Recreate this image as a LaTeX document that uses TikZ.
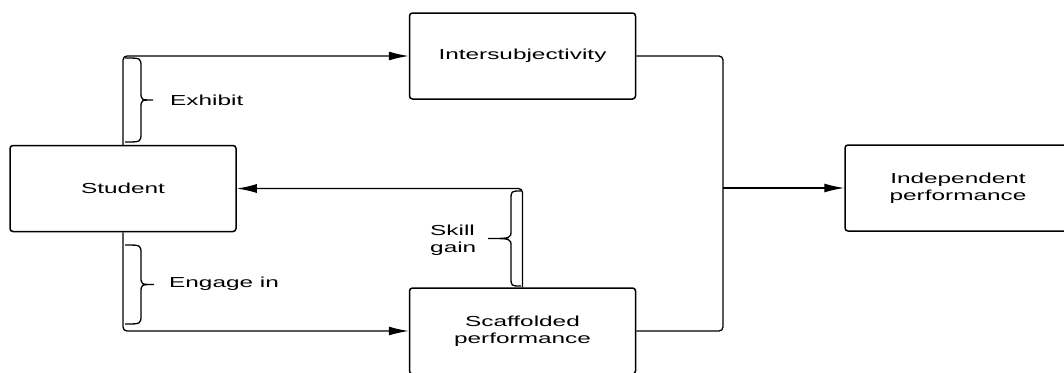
\documentclass[tikz,border=0pt]{standalone}
\usepackage{fontspec}
\setmainfont[FakeStretch=1.68]{Liberation Sans}
\usetikzlibrary{arrows.meta}
\tikzset{box/.style={draw,line width=1.5pt,rounded corners=3pt,
    minimum width=226pt,minimum height=86pt,inner sep=0pt,align=center,
    font=\fontsize{14.5}{16.5}\selectfont}}
\tikzset{lbl/.style={anchor=west,inner sep=0pt,font=\fontsize{14.5}{16.5}\selectfont}}
\tikzset{link/.style={line width=1.3pt,rounded corners=4pt}}
\tikzset{arr/.style={link,-{Latex[length=20pt,width=9pt]}}}
\tikzset{curly/.style={line width=1.3pt}}
% base x, top y, bottom y, back x, tip x
\newcommand{\curlybrace}[5]{%
  \draw[curly] (#1,#2) .. controls (#4,#2) .. (#4,#2+9)
    -- (#4,{(#2+#3)/2-8}) .. controls (#4,{(#2+#3)/2}) .. (#5,{(#2+#3)/2})
    .. controls (#4,{(#2+#3)/2}) .. (#4,{(#2+#3)/2+8})
    -- (#4,#3-9) .. controls (#4,#3) .. (#1,#3);}

\begin{document}
\begin{tikzpicture}[x=1pt,y=-1pt]
    \useasboundingbox (0,0) rectangle (1064,372);

    % Boxes
    \node[box] (stu) at (123,188.5) {Student};
    \node[box] (isub) at (522.5,56) {Intersubjectivity};
    \node[box] (scaf) at (522.5,331) {Scaffolded\\performance};
    \node[box] (ind) at (958,188) {Independent\\performance};
    \coordinate (j) at (723,188);

    % Connectors
    \draw[arr] (stu.north) |- (isub.west);
    \draw[arr] (stu.south) |- (scaf.west);
    \draw[arr] (scaf.north) |- (stu.east);
    \draw[link] (isub.east) -| (j) |- (scaf.east);
    \draw[arr] (j) -- (ind.west);

    % Braces and labels
    \curlybrace{125}{58}{142}{141}{153}
    \curlybrace{125}{245}{324}{141}{154}
    \curlybrace{521}{191}{286}{511}{488}
    \node[lbl] (exh) at (170,100) {Exhibit};
    \node[lbl] (eng) at (169,284) {Engage in};
    \node[lbl,align=left] (skl) at (430,240) {Skill\\gain};
\end{tikzpicture}
\end{document}
